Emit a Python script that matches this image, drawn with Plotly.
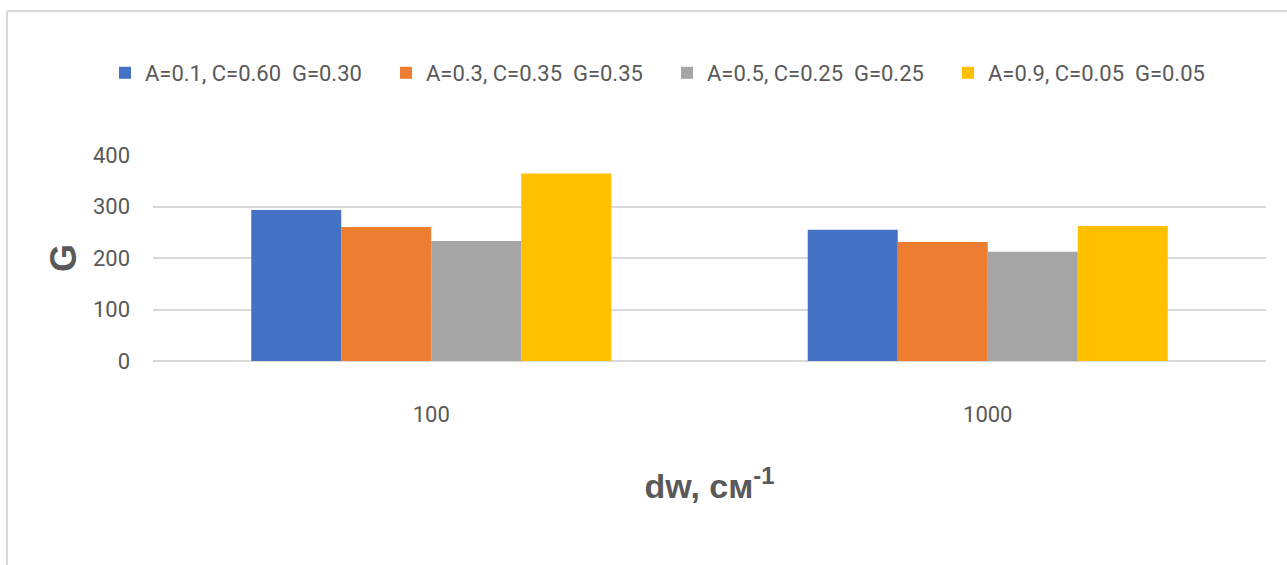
import plotly.graph_objects as go

# Wavenumber groups on the x axis
categories = ["100", "1000"]

# Series: composition A / C / G and resulting G values
series_names = [
    "A=0.1, C=0.60  G=0.30",
    "A=0.3, C=0.35  G=0.35",
    "A=0.5, C=0.25  G=0.25",
    "A=0.9, C=0.05  G=0.05",
]
series_values = [
    [293, 255],
    [260, 231],
    [233, 212],
    [364, 262],
]
series_colors = ["#4472C4", "#ED7D31", "#A5A5A5", "#FFC000"]

y_ticks = [0, 100, 200, 300, 400]

LABEL_FONT = "Roboto, Liberation Sans, sans-serif"
TITLE_FONT = "Liberation Sans, Arial, sans-serif"
TEXT = "#595959"

W, H = 1287, 565
ML, MR, MT, MB = 153, 21, 155, 204
plot_w = W - ML - MR
plot_h = H - MT - MB

fig = go.Figure()
for name, vals, col in zip(series_names, series_values, series_colors):
    fig.add_trace(go.Bar(
        x=categories, y=vals, name=name,
        marker=dict(color=col, line=dict(width=0)),
    ))


def px_x(px):
    return (px - ML) / plot_w


def px_y(py):
    return (H - MB - py) / plot_h


# Outer chart frame (top and left edges)
frame = dict(color="#d9d9d9", width=2)
fig.add_shape(type="line", xref="paper", yref="paper",
              x0=px_x(7), x1=px_x(W + 5), y0=px_y(11), y1=px_y(11), line=frame)
fig.add_shape(type="line", xref="paper", yref="paper",
              x0=px_x(7), x1=px_x(7), y0=px_y(11), y1=px_y(H + 5), line=frame)

fig.update_layout(
    width=W, height=H,
    margin=dict(l=ML, r=MR, t=MT, b=MB, autoexpand=False),
    paper_bgcolor="white", plot_bgcolor="white",
    barmode="group", bargap=0.353, bargroupgap=0,
    showlegend=True,
    legend=dict(
        orientation="h", x=px_x(105), xanchor="left",
        y=px_y(73), yanchor="middle",
        font=dict(family=LABEL_FONT, size=22, color=TEXT),
        itemwidth=30, entrywidth=236, entrywidthmode="pixels",
        tracegroupgap=0, traceorder="normal",
        bgcolor="rgba(0,0,0,0)",
    ),
    xaxis=dict(
        type="category",
        showgrid=False, showline=False, zeroline=False,
        ticks="", ticklabelstandoff=38,
        tickfont=dict(family=LABEL_FONT, size=22, color=TEXT),
        title=dict(text="dw, см<sup>-1</sup>", standoff=48,
                   font=dict(family=TITLE_FONT, size=34, color=TEXT, weight="bold")),
    ),
    yaxis=dict(
        range=[0, 400], tickvals=y_ticks,
        showgrid=True, gridcolor="#d9d9d9", gridwidth=2,
        zeroline=True, zerolinecolor="#d9d9d9", zerolinewidth=2,
        showline=False, ticks="", ticklabelstandoff=22,
        tickfont=dict(family=LABEL_FONT, size=22, color=TEXT),
        title=dict(text="G", standoff=5,
                   font=dict(family=TITLE_FONT, size=36, color=TEXT, weight="bold")),
    ),
)

fig.write_html("out.html")
